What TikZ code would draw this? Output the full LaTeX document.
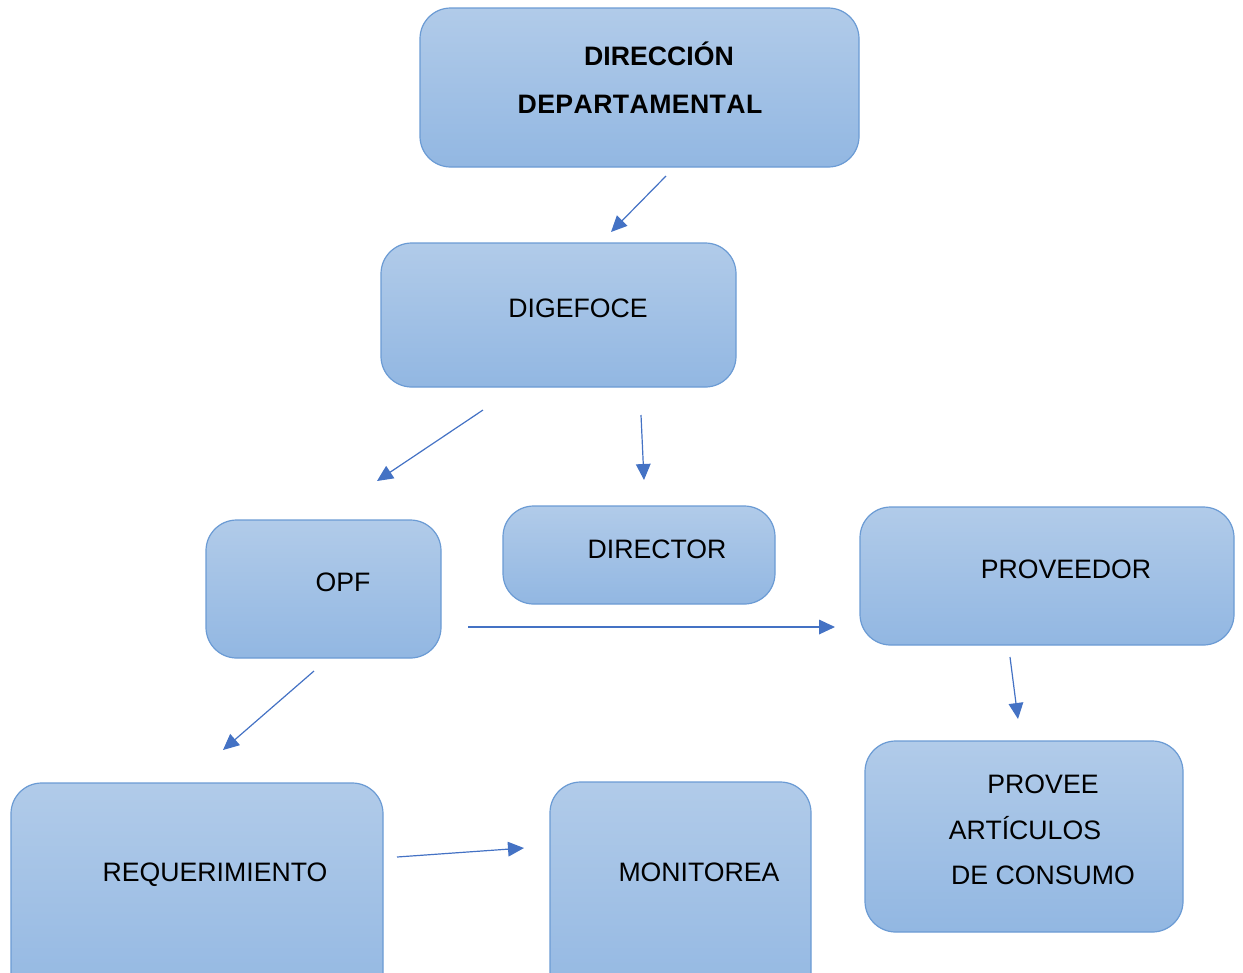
\documentclass[tikz,border=0pt]{standalone}
\usepackage{fontspec}
\setmainfont{Liberation Sans}
\usetikzlibrary{arrows.meta}
\definecolor{boxtop}{HTML}{B1CBE9}
\definecolor{boxbot}{HTML}{92B7E2}
\definecolor{boxline}{HTML}{6B9BD4}
\definecolor{arrowc}{HTML}{4472C4}
\tikzset{
  boxst/.style={draw=boxline, line width=0.9pt, rounded corners=23pt, top color=boxtop, bottom color=boxbot},
  lbl/.style={font=\fontsize{20}{24}\selectfont, anchor=center, inner sep=0pt, text height=14.3pt, text depth=0pt},
  lblb/.style={lbl, font=\fontsize{20}{24}\selectfont\bfseries},
  conn/.style={draw=arrowc, line width=0.9pt, -{Triangle[length=12pt,width=11pt]}}
}
\begin{document}
\begin{tikzpicture}[x=0.75pt,y=-0.75pt]
\useasboundingbox (0,0) rectangle (1243,972);
\clip (0,0) rectangle (1243,972);
% boxes
\path[boxst] (420,8) rectangle (859,167);
\path[boxst] (381,243) rectangle (736,387);
\path[boxst] (206,520) rectangle (441,658);
\path[boxst] (503,506) rectangle (775,604);
\path[boxst] (860,507) rectangle (1234,645);
\path[boxst] (11,783) rectangle (383,1010);
\path[boxst] (550,782) rectangle (811,1010);
\path[boxst] (865,741) rectangle (1183,932);
% labels
\node[lblb] (dir1) at (659,56) {DIRECCIÓN};
\node[lblb] (dir2) at (640,104) {D\kern0.3pt E\kern0.3pt P\kern0.3pt A\kern0.3pt R\kern0.3pt T\kern0.3pt A\kern0.3pt M\kern0.3pt E\kern0.3pt N\kern0.3pt T\kern0.3pt A\kern0.3pt L};
\node[lbl] (dige) at (578,308) {DIGEFOCE};
\node[lbl] (opf) at (343,582) {OPF};
\node[lbl] (dtor) at (657,549) {DIRECTOR};
\node[lbl] (prov) at (1066,569) {PROVEEDOR};
\node[lbl] (req) at (215,872) {REQUERIMIENTO};
\node[lbl] (mon) at (699,872) {MONITOREA};
\node[lbl] (pa1) at (1043,784) {PROVEE};
\node[lbl] (pa2) at (1025,830) {ARTÍCULOS};
\node[lbl] (pa3) at (1043,875) {DE CONSUMO};
% connector ends
\coordinate (a1) at (666,176); \coordinate (b1) at (611,232);
\coordinate (a2) at (483,410); \coordinate (b2) at (377,481);
\coordinate (a3) at (641,415); \coordinate (b3) at (644,480);
\coordinate (a4) at (468,627); \coordinate (b4) at (835,627);
\coordinate (a5) at (314,671); \coordinate (b5) at (223,750);
\coordinate (a6) at (1010,657); \coordinate (b6) at (1018,719);
\coordinate (a7) at (397,857); \coordinate (b7) at (524,848);
\draw[conn] (a1) -- (b1);
\draw[conn] (a2) -- (b2);
\draw[conn] (a3) -- (b3);
\draw[conn] (a4) -- (b4);
\draw[conn] (a5) -- (b5);
\draw[conn] (a6) -- (b6);
\draw[conn] (a7) -- (b7);
\end{tikzpicture}
\end{document}
